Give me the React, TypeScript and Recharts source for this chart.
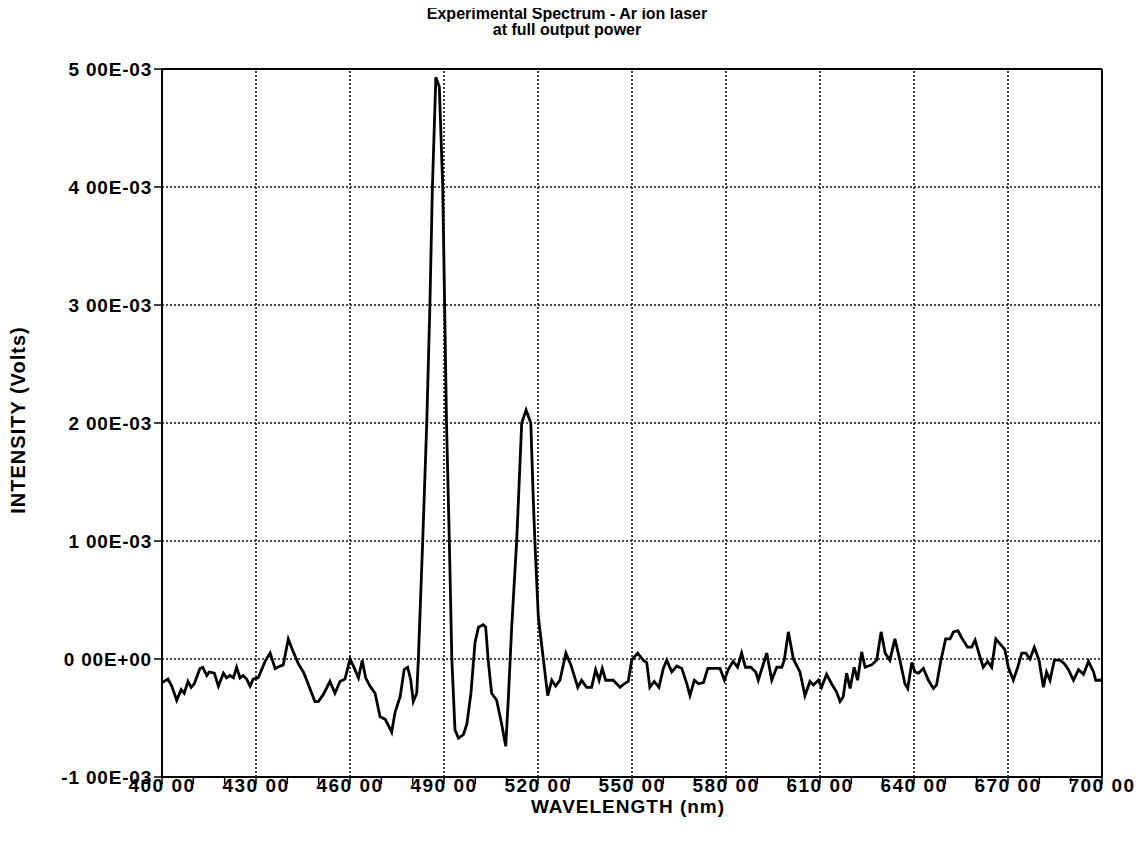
import { LineChart, Line, XAxis, YAxis, CartesianGrid, ReferenceLine } from "recharts";

// wavelength (nm) and intensity (x 1E-03 V)
const wavelengths = [
  400, 401.9, 403.1, 404.7, 406.1, 407.1, 408.3, 409.3, 410.3, 412.1,
  413.0, 414.3, 415.1, 416.7, 418.0, 419.6, 420.6, 421.7, 422.8, 423.8,
  424.9, 425.9, 427.0, 428.1, 429.1, 430.7, 432.9, 434.5, 436.1, 437.7,
  438.7, 440.3, 441.9, 443.5, 445.1, 446.2, 446.9, 447.8, 448.8, 449.9,
  451.5, 453.6, 455.2, 456.8, 458.4, 460.0, 461.1, 462.7, 463.9, 465.0,
  466.4, 468.0, 469.6, 471.2, 472.2, 473.3, 474.4, 476.0, 477.3, 478.4,
  479.4, 480.2, 481.3, 481.8, 483.2, 484.5, 485.5, 486.3, 487.4, 488.5,
  489.6, 490.2, 490.8, 491.7, 492.5, 493.5, 494.6, 496.2, 497.3, 498.6,
  499.9, 501.0, 502.5, 503.3, 504.1, 505.2, 506.8, 508.4, 509.7, 510.5,
  511.6, 513.2, 514.8, 516.2, 517.7, 518.5, 519.0, 520.1, 521.7, 523.1,
  524.4, 525.6, 527.0, 528.9, 530.5, 532.7, 533.9, 535.5, 537.1, 538.4,
  539.5, 540.5, 541.6, 544.0, 546.2, 547.5, 548.8, 549.9, 551.8, 553.6,
  554.7, 555.7, 557.1, 558.6, 560.0, 561.1, 562.7, 564.3, 565.9, 567.5,
  568.5, 569.9, 571.2, 572.8, 574.2, 576.5, 578.1, 579.5, 580.7, 582.3,
  583.7, 585.0, 586.2, 587.9, 589.5, 590.3, 591.6, 593.0, 594.6, 596.2,
  597.8, 598.6, 599.9, 601.5, 603.6, 605.2, 606.8, 607.9, 609.5, 610.5,
  612.1, 613.7, 615.3, 616.4, 617.4, 618.5, 619.6, 620.9, 622.0, 623.3,
  624.4, 626.5, 628.1, 629.5, 630.8, 632.3, 633.9, 635.5, 637.1, 638.0,
  639.3, 640.3, 641.4, 643.0, 644.6, 646.2, 647.2, 648.6, 650.1, 651.5,
  652.6, 654.0, 655.2, 657.1, 658.4, 659.5, 660.7, 662.1, 663.5, 664.8,
  666.1, 667.4, 669.0, 670.1, 671.7, 673.1, 674.4, 675.7, 677.0, 678.4,
  679.9, 681.3, 682.3, 683.4, 684.8, 686.6, 688.0, 689.3, 690.9, 692.5,
  694.1, 695.7, 697.3, 698.0, 699.4, 700,
];

const intensity = [
  -0.20, -0.17, -0.23, -0.35, -0.26, -0.29, -0.19, -0.24, -0.21, -0.08,
  -0.07, -0.14, -0.11, -0.12, -0.23, -0.12, -0.16, -0.14, -0.16, -0.07,
  -0.16, -0.14, -0.17, -0.23, -0.17, -0.16, -0.02, 0.05, -0.08, -0.06,
  -0.05, 0.17, 0.06, -0.04, -0.11, -0.18, -0.23, -0.29, -0.36, -0.36,
  -0.30, -0.19, -0.29, -0.19, -0.17, 0.0, -0.06, -0.16, -0.01, -0.16,
  -0.23, -0.29, -0.49, -0.51, -0.56, -0.62, -0.45, -0.32, -0.09, -0.07,
  -0.18, -0.36, -0.29, -0.01, 1.0, 2.0, 3.0, 4.0, 4.93, 4.85,
  4.0, 3.0, 2.0, 1.0, 0.0, -0.60, -0.67, -0.64, -0.55, -0.29,
  0.14, 0.27, 0.29, 0.27, -0.01, -0.29, -0.35, -0.55, -0.74, -0.35,
  0.27, 1.0, 2.0, 2.11, 2.0, 1.35, 1.0, 0.36, 0.0, -0.31,
  -0.18, -0.23, -0.18, 0.05, -0.05, -0.24, -0.18, -0.24, -0.24, -0.09,
  -0.18, -0.08, -0.18, -0.18, -0.24, -0.21, -0.19, -0.01, 0.05, -0.01,
  -0.03, -0.24, -0.19, -0.24, -0.08, -0.01, -0.11, -0.06, -0.08, -0.21,
  -0.31, -0.18, -0.21, -0.20, -0.08, -0.08, -0.08, -0.18, -0.09, -0.02,
  -0.07, 0.05, -0.07, -0.07, -0.11, -0.18, -0.07, 0.05, -0.18, -0.07,
  -0.07, -0.01, 0.23, 0.0, -0.11, -0.31, -0.19, -0.22, -0.18, -0.24,
  -0.13, -0.21, -0.28, -0.36, -0.32, -0.12, -0.25, -0.07, -0.18, 0.06,
  -0.07, -0.05, -0.01, 0.23, 0.05, -0.01, 0.17, -0.01, -0.21, -0.25,
  -0.03, -0.11, -0.12, -0.08, -0.18, -0.25, -0.22, -0.01, 0.17, 0.17,
  0.23, 0.24, 0.18, 0.10, 0.10, 0.16, 0.05, -0.07, -0.02, -0.07,
  0.17, 0.13, 0.08, -0.07, -0.18, -0.07, 0.05, 0.05, 0.0, 0.10,
  -0.01, -0.24, -0.11, -0.18, -0.01, -0.01, -0.04, -0.09, -0.18, -0.09,
  -0.13, -0.02, -0.11, -0.18, -0.18, -0.18,
];

const xTicks = [
  400, 410, 420, 430, 440, 450, 460, 470, 480, 490, 500, 510, 520, 530, 540, 550,
  560, 570, 580, 590, 600, 610, 620, 630, 640, 650, 660, 670, 680, 690, 700,
];
const xLabelled = [400, 430, 460, 490, 520, 550, 580, 610, 640, 670, 700];
const xGridLines = [430, 460, 490, 520, 550, 580, 610, 640, 670];

const yTicks = [-1, 0, 1, 2, 3, 4, 5];
const yTickLabels = ["-1 00E-03", "0 00E+00", "1 00E-03", "2 00E-03", "3 00E-03", "4 00E-03", "5 00E-03"];

const data = wavelengths.map((w, i) => ({ w, v: intensity[i] }));

const FONT = "'Liberation Sans', Arial, sans-serif";
const xTickStyle = { fill: "#000", fontSize: 19, fontWeight: 700, fontFamily: FONT, letterSpacing: 1.5 };
const yTickStyle = { fill: "#000", fontSize: 19, fontWeight: 700, fontFamily: FONT, letterSpacing: 0.8 };

export default function App() {
  return (
    <div style={{ position: "relative", width: 1137, height: 837, margin: -8, fontFamily: FONT, background: "#fff" }}>
      <div
        style={{
          position: "absolute",
          left: 0,
          width: 1134,
          top: 6,
          textAlign: "center",
          fontSize: 16,
          fontWeight: 700,
          lineHeight: "16px",
        }}
      >
        <div>Experimental Spectrum - Ar ion laser</div>
        <div>at full output power</div>
      </div>

      <LineChart width={1137} height={837} data={data} margin={{ top: 69, right: 35, left: 0, bottom: 30 }}>
        <CartesianGrid horizontal vertical={false} stroke="#111" strokeWidth={1.6} strokeDasharray="2 2" />
        {xGridLines.map((x) => (
          <ReferenceLine key={x} x={x} stroke="#111" strokeWidth={1.6} strokeDasharray="2 2" />
        ))}
        <ReferenceLine y={5} stroke="#000" strokeWidth={2} />
        <ReferenceLine x={700} stroke="#000" strokeWidth={2} />
        <XAxis
          dataKey="w"
          type="number"
          domain={[400, 700]}
          ticks={xTicks}
          interval={0}
          height={30}
          tickSize={7}
          tickMargin={-5}
          axisLine={{ stroke: "#000", strokeWidth: 2 }}
          tickLine={{ stroke: "#000", strokeWidth: 1.5 }}
          tick={xTickStyle}
          tickFormatter={(v: number) => (xLabelled.includes(v) ? `${v} 00` : "")}
        />
        <YAxis
          type="number"
          domain={[-1, 5]}
          ticks={yTicks}
          interval={0}
          width={162}
          tickSize={8}
          axisLine={{ stroke: "#000", strokeWidth: 2 }}
          tickLine={{ stroke: "#000", strokeWidth: 1.5 }}
          tick={yTickStyle}
          tickFormatter={(v: number) => yTickLabels[yTicks.indexOf(v)]}
        />
        <Line
          type="linear"
          dataKey="v"
          stroke="#000"
          strokeWidth={2.8}
          dot={false}
          isAnimationActive={false}
        />
      </LineChart>

      <div
        style={{
          position: "absolute",
          left: 428,
          width: 400,
          top: 798,
          textAlign: "center",
          fontSize: 19,
          fontWeight: 700,
          letterSpacing: 1,
          lineHeight: "18px",
        }}
      >
        WAVELENGTH (nm)
      </div>
      <div
        style={{
          position: "absolute",
          left: 18,
          top: 420,
          transform: "translate(-50%, -50%) rotate(-90deg)",
          whiteSpace: "nowrap",
          fontSize: 20,
          fontWeight: 700,
          letterSpacing: 1,
        }}
      >
        INTENSITY (Volts)
      </div>
    </div>
  );
}
